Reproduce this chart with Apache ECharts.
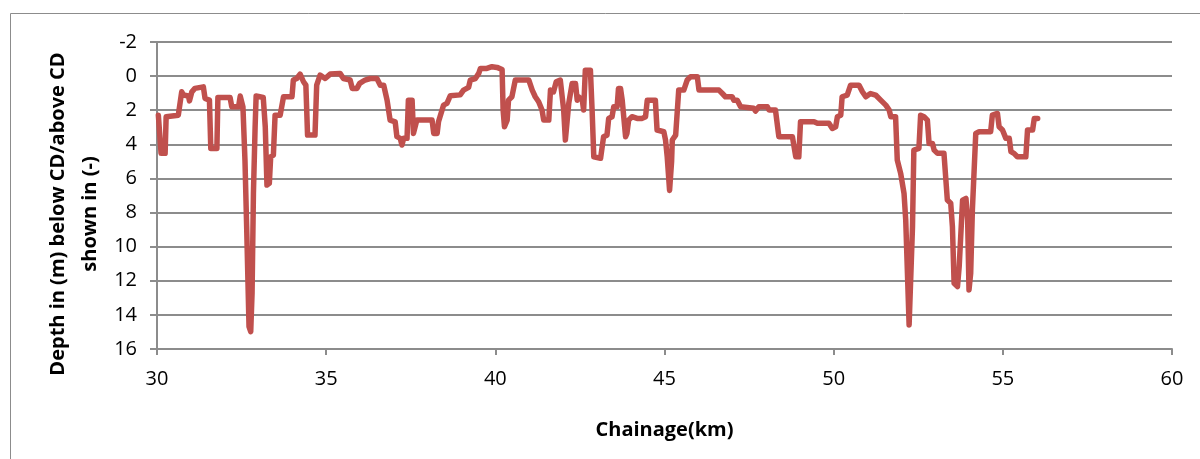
<!DOCTYPE html>
<html>
<head>
<meta charset="utf-8">
<script src="https://cdn.jsdelivr.net/npm/echarts@6/dist/echarts.min.js"></script>
<style>
  html, body { margin: 0; padding: 0; background: #fff; }
  #chart { width: 1200px; height: 459px; }
</style>
</head>
<body>
<div id="chart"></div>
<script>
const xTicks = [30, 35, 40, 45, 50, 55, 60];
const yTicks = [-2, 0, 2, 4, 6, 8, 10, 12, 14, 16];

const chainageKm = [
  30.04, 30.12, 30.24, 30.27, 30.29, 30.63, 30.73, 30.78, 30.93, 30.96,
  31.03, 31.12, 31.17, 31.37, 31.42, 31.55, 31.59, 31.77, 31.80, 32.16,
  32.21, 32.41, 32.46, 32.54, 32.60, 32.65, 32.72, 32.77, 32.81, 32.85,
  32.90, 32.93, 33.14, 33.20, 33.25, 33.32, 33.36, 33.44, 33.49, 33.64,
  33.74, 33.99, 34.03, 34.13, 34.23, 34.33, 34.40, 34.45, 34.67, 34.72,
  34.82, 34.97, 35.12, 35.41, 35.51, 35.71, 35.77, 35.91, 35.99, 36.15,
  36.30, 36.50, 36.60, 36.70, 36.80, 36.89, 37.04, 37.09, 37.19, 37.24,
  37.29, 37.39, 37.43, 37.54, 37.58, 37.68, 38.13, 38.18, 38.28, 38.32,
  38.47, 38.57, 38.67, 38.96, 39.01, 39.06, 39.21, 39.26, 39.41, 39.51,
  39.56, 39.75, 39.90, 40.05, 40.20, 40.23, 40.27, 40.35, 40.39, 40.49,
  40.59, 40.99, 41.09, 41.18, 41.28, 41.38, 41.43, 41.58, 41.63, 41.72,
  41.80, 41.92, 42.02, 42.07, 42.12, 42.17, 42.27, 42.37, 42.42, 42.46,
  42.57, 42.61, 42.66, 42.81, 42.86, 42.91, 43.11, 43.16, 43.20, 43.30,
  43.35, 43.45, 43.50, 43.60, 43.64, 43.70, 43.75, 43.80, 43.85, 43.89,
  43.94, 44.04, 44.19, 44.34, 44.44, 44.49, 44.73, 44.78, 44.98, 45.03,
  45.08, 45.15, 45.21, 45.23, 45.33, 45.38, 45.42, 45.57, 45.62, 45.67,
  45.77, 45.97, 46.02, 46.61, 46.71, 46.80, 47.00, 47.05, 47.15, 47.25,
  47.64, 47.69, 47.79, 48.04, 48.09, 48.28, 48.38, 48.78, 48.88, 48.97,
  49.02, 49.42, 49.52, 49.86, 49.96, 50.06, 50.11, 50.21, 50.25, 50.40,
  50.50, 50.75, 50.85, 50.95, 51.09, 51.24, 51.39, 51.54, 51.64, 51.69,
  51.83, 51.88, 51.98, 52.08, 52.13, 52.23, 52.28, 52.33, 52.37, 52.52,
  52.57, 52.67, 52.77, 52.82, 52.92, 52.97, 53.07, 53.26, 53.36, 53.46,
  53.51, 53.56, 53.66, 53.71, 53.81, 53.91, 53.96, 54.00, 54.05, 54.10,
  54.20, 54.30, 54.64, 54.69, 54.84, 54.89, 54.99, 55.09, 55.19, 55.24,
  55.33, 55.43, 55.68, 55.73, 55.88, 55.93, 56.03
];

const depthM = [
  2.29, 4.53, 4.53, 2.38, 2.29, 2.29, 0.92, 1.11, 1.17, 1.45,
  0.92, 0.72, 0.63, 0.63, 1.31, 1.41, 4.24, 4.24, 1.25, 1.25,
  1.80, 1.80, 1.17, 1.80, 4.92, 8.83, 14.69, 14.98, 12.73, 6.88,
  2.97, 1.17, 1.25, 2.97, 6.39, 6.29, 4.73, 4.63, 2.29, 2.29,
  1.21, 1.21, 0.23, 0.14, -0.12, 0.33, 0.53, 3.46, 3.46, 0.53,
  -0.06, 0.14, -0.12, -0.16, 0.14, 0.23, 0.72, 0.72, 0.43, 0.23,
  0.14, 0.14, 0.53, 0.53, 1.41, 2.58, 2.68, 3.55, 3.65, 4.04,
  3.65, 3.65, 1.41, 1.41, 3.36, 2.58, 2.58, 3.36, 3.36, 2.68,
  1.70, 1.60, 1.15, 1.10, 1.17, 0.82, 0.66, 0.23, 0.14, -0.16,
  -0.45, -0.45, -0.55, -0.51, -0.39, 1.99, 2.97, 2.58, 1.41, 1.21,
  0.23, 0.23, 0.82, 1.21, 1.50, 1.99, 2.58, 2.58, 0.82, 0.92,
  0.33, 0.23, 1.99, 3.75, 3.75, 1.60, 0.43, 0.43, 1.41, 1.21,
  1.41, 1.99, -0.35, -0.35, 1.99, 4.73, 4.82, 4.73, 3.55, 3.46,
  2.48, 2.38, 1.80, 1.80, 0.72, 0.72, 1.41, 2.48, 3.55, 3.36,
  2.58, 2.38, 2.48, 2.48, 2.38, 1.41, 1.41, 3.16, 3.26, 3.75,
  4.73, 6.70, 5.00, 3.75, 3.46, 3.46, 0.82, 0.82, 0.53, 0.23,
  0.04, 0.04, 0.82, 0.82, 1.02, 1.21, 1.21, 1.41, 1.41, 1.80,
  1.89, 2.05, 1.80, 1.80, 1.99, 1.99, 3.55, 3.55, 4.73, 4.73,
  2.68, 2.68, 2.77, 2.77, 3.07, 2.97, 2.38, 2.29, 1.21, 1.11,
  0.53, 0.53, 0.92, 1.21, 1.02, 1.11, 1.41, 1.70, 1.99, 2.38,
  2.38, 4.92, 5.70, 6.88, 8.44, 14.59, 14.49, 8.83, 4.34, 4.24,
  2.29, 2.38, 2.58, 3.95, 3.95, 4.34, 4.53, 4.53, 7.27, 7.46,
  8.83, 12.15, 12.34, 11.17, 7.27, 7.17, 8.44, 12.54, 11.56, 7.85,
  3.36, 3.26, 3.26, 2.29, 2.19, 2.97, 3.16, 3.65, 3.65, 4.43,
  4.53, 4.73, 4.73, 3.16, 3.16, 2.48, 2.48
];

const xTitle = 'Chainage(km)';
const yTitleLines = ['Depth in (m) below CD/above CD', 'shown in (-)'];

const FONT = "'Open Sans', 'Noto Sans', sans-serif";
const GRID_COLOR = '#8c8c8c';

const chart = echarts.init(document.getElementById('chart'), null, { renderer: 'canvas' });
const seriesData = chainageKm.map((k, i) => [k, depthM[i]]);

chart.setOption({
  animation: false,
  backgroundColor: '#ffffff',
  grid: { left: 157, right: 28, top: 42, bottom: 110, containLabel: false },
  graphic: [
    {
      type: 'rect',
      shape: { x: 10.5, y: 13.5, width: 1220, height: 480 },
      style: { fill: 'none', stroke: '#8c8c8c', lineWidth: 1 },
      silent: true
    },
    {
      type: 'text',
      x: 74, y: 214,
      rotation: Math.PI / 2,
      style: {
        text: yTitleLines.join('\n'),
        font: "bold 20px " + FONT,
        fill: '#000',
        align: 'center',
        verticalAlign: 'middle',
        lineHeight: 32
      },
      silent: true
    }
  ],
  xAxis: {
    type: 'value',
    min: xTicks[0],
    max: xTicks[xTicks.length - 1],
    interval: xTicks[1] - xTicks[0],
    name: xTitle,
    nameLocation: 'middle',
    nameGap: 71,
    nameTextStyle: { fontFamily: FONT, fontWeight: 'bold', fontSize: 20, color: '#000' },
    axisLine: { show: true, onZero: false, lineStyle: { color: GRID_COLOR, width: 2 } },
    axisTick: { show: true, inside: false, length: 6, lineStyle: { color: GRID_COLOR, width: 2 } },
    axisLabel: { margin: 20, fontFamily: FONT, fontSize: 20, color: '#000' },
    splitLine: { show: false }
  },
  yAxis: {
    type: 'value',
    inverse: true,
    min: yTicks[0],
    max: yTicks[yTicks.length - 1],
    interval: yTicks[1] - yTicks[0],
    axisLine: { show: true, onZero: false, lineStyle: { color: GRID_COLOR, width: 2 } },
    axisTick: { show: true, inside: false, length: 7, lineStyle: { color: GRID_COLOR, width: 2 } },
    axisLabel: { margin: 20, fontFamily: FONT, fontSize: 20, color: '#000' },
    splitLine: { show: true, lineStyle: { color: GRID_COLOR, width: 2 } }
  },
  series: [{
    type: 'line',
    data: seriesData,
    showSymbol: false,
    symbol: 'none',
    lineStyle: { color: '#C0504D', width: 5.5, join: 'round', cap: 'round' },
    itemStyle: { color: '#C0504D' }
  }]
});
</script>
</body>
</html>
